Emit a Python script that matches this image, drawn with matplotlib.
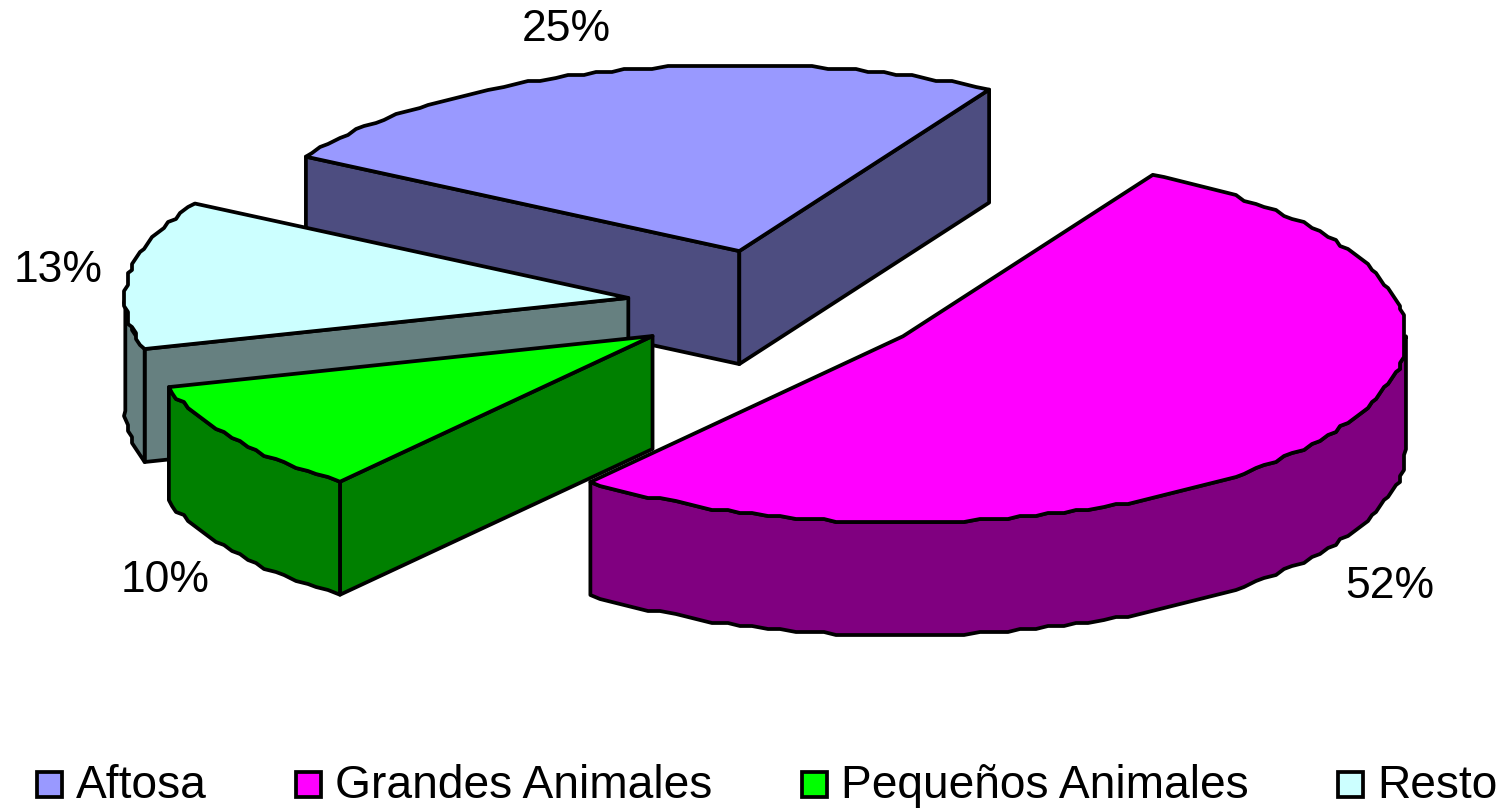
#!/usr/bin/env python3
"""Exploded 3D pie, drawn as projected polygons."""
import numpy as np
import matplotlib
matplotlib.use("Agg")
import matplotlib.pyplot as plt
from matplotlib.patches import Patch, Polygon

plt.rcParams['font.family'] = ['Liberation Sans', 'DejaVu Sans']

categories = ['Aftosa', 'Grandes Animales', 'Pequeños Animales', 'Resto']
values = [24.8, 52.4, 9.9, 12.9]
top_colors = ['#9999FF', '#FF00FF', '#00FF00', '#CCFFFF']
side_colors = ['#4D4D80', '#800080', '#008000', '#668080']
label_pos = [(566, 29), (1390, 586), (165, 580), (58, 271)]

# projection of the pie in pixels
CX, CY = 778, 305
RX, RY = 503, 186
DEPTH = 113
EXPLODE = 0.3
START = -59.5
LW = 2.7


def arc_points(x0, y0, a, b):
    # angles clockwise from the top; stepped outline like the old renderer
    n = max(int((b - a) / 1.6), 2)
    ang = np.radians(np.linspace(a, b, n))
    x = x0 + RX * np.sin(ang)
    y = y0 - RY * np.cos(ang)
    xq = np.round(x / 4) * 4
    yq = np.round(y / 3) * 3
    xq[0], yq[0], xq[-1], yq[-1] = x[0], y[0], x[-1], y[-1]
    return np.column_stack([xq, yq])


def draw_slice(ax, a, b, top, side):
    mid = np.radians((a + b) / 2)
    x0 = CX + EXPLODE * RX * np.sin(mid)
    y0 = CY - EXPLODE * RY * np.cos(mid)
    down = np.array([0, DEPTH])
    apex = np.array([x0, y0])
    arc = arc_points(x0, y0, a, b)

    style = dict(edgecolor='black', linewidth=LW, joinstyle='round')
    # flat cut faces, only those turned towards the viewer
    if np.sin(np.radians(a)) < 0:
        quad = [apex, arc[0], arc[0] + down, apex + down]
        ax.add_patch(Polygon(quad, facecolor=side, **style))
    if np.sin(np.radians(b)) > 0:
        quad = [apex, arc[-1], arc[-1] + down, apex + down]
        ax.add_patch(Polygon(quad, facecolor=side, **style))
    # rounded outer wall, front half only
    lo, hi = max(a, 90), min(b, 270)
    if hi > lo:
        wall = arc_points(x0, y0, lo, hi)
        ax.add_patch(Polygon(np.vstack([wall, (wall + down)[::-1]]), facecolor=side, **style))
    ax.add_patch(Polygon(np.vstack([apex, arc]), facecolor=top, **style))


def main():
    fig = plt.figure(figsize=(15.07, 8.09), dpi=100)
    ax = fig.add_axes([0, 0, 1, 1])
    ax.set_xlim(0, 1507)
    ax.set_ylim(809, 0)
    ax.axis('off')

    # slice angles, in data order
    edges = START + np.cumsum([0] + values) * 3.6
    for i in [0, 3, 2, 1]:
        draw_slice(ax, edges[i], edges[i + 1], top_colors[i], side_colors[i])

    for val, (x, y) in zip(values, label_pos):
        ax.text(x, y, f'{val:.0f}%', fontsize=32, ha='center', va='center')

    handles = [Patch(facecolor=c, edgecolor='black', linewidth=LW) for c in top_colors]
    fs = 33.2
    px = fs * 100 / 72
    leg = fig.legend(handles, categories, ncol=4, frameon=False, fontsize=fs,
                     loc='lower left', bbox_to_anchor=(37 / 1507, 1 - 808 / 809),
                     borderpad=0, borderaxespad=0,
                     handlelength=25 / px, handleheight=22 / px,
                     handletextpad=14 / px, columnspacing=89.5 / px)
    # markers sit on the text baseline in the original
    for h in leg.legend_handles:
        h.set_y(h.get_y() - 2)

    fig.savefig('out.png', dpi=100)


if __name__ == "__main__":
    main()
